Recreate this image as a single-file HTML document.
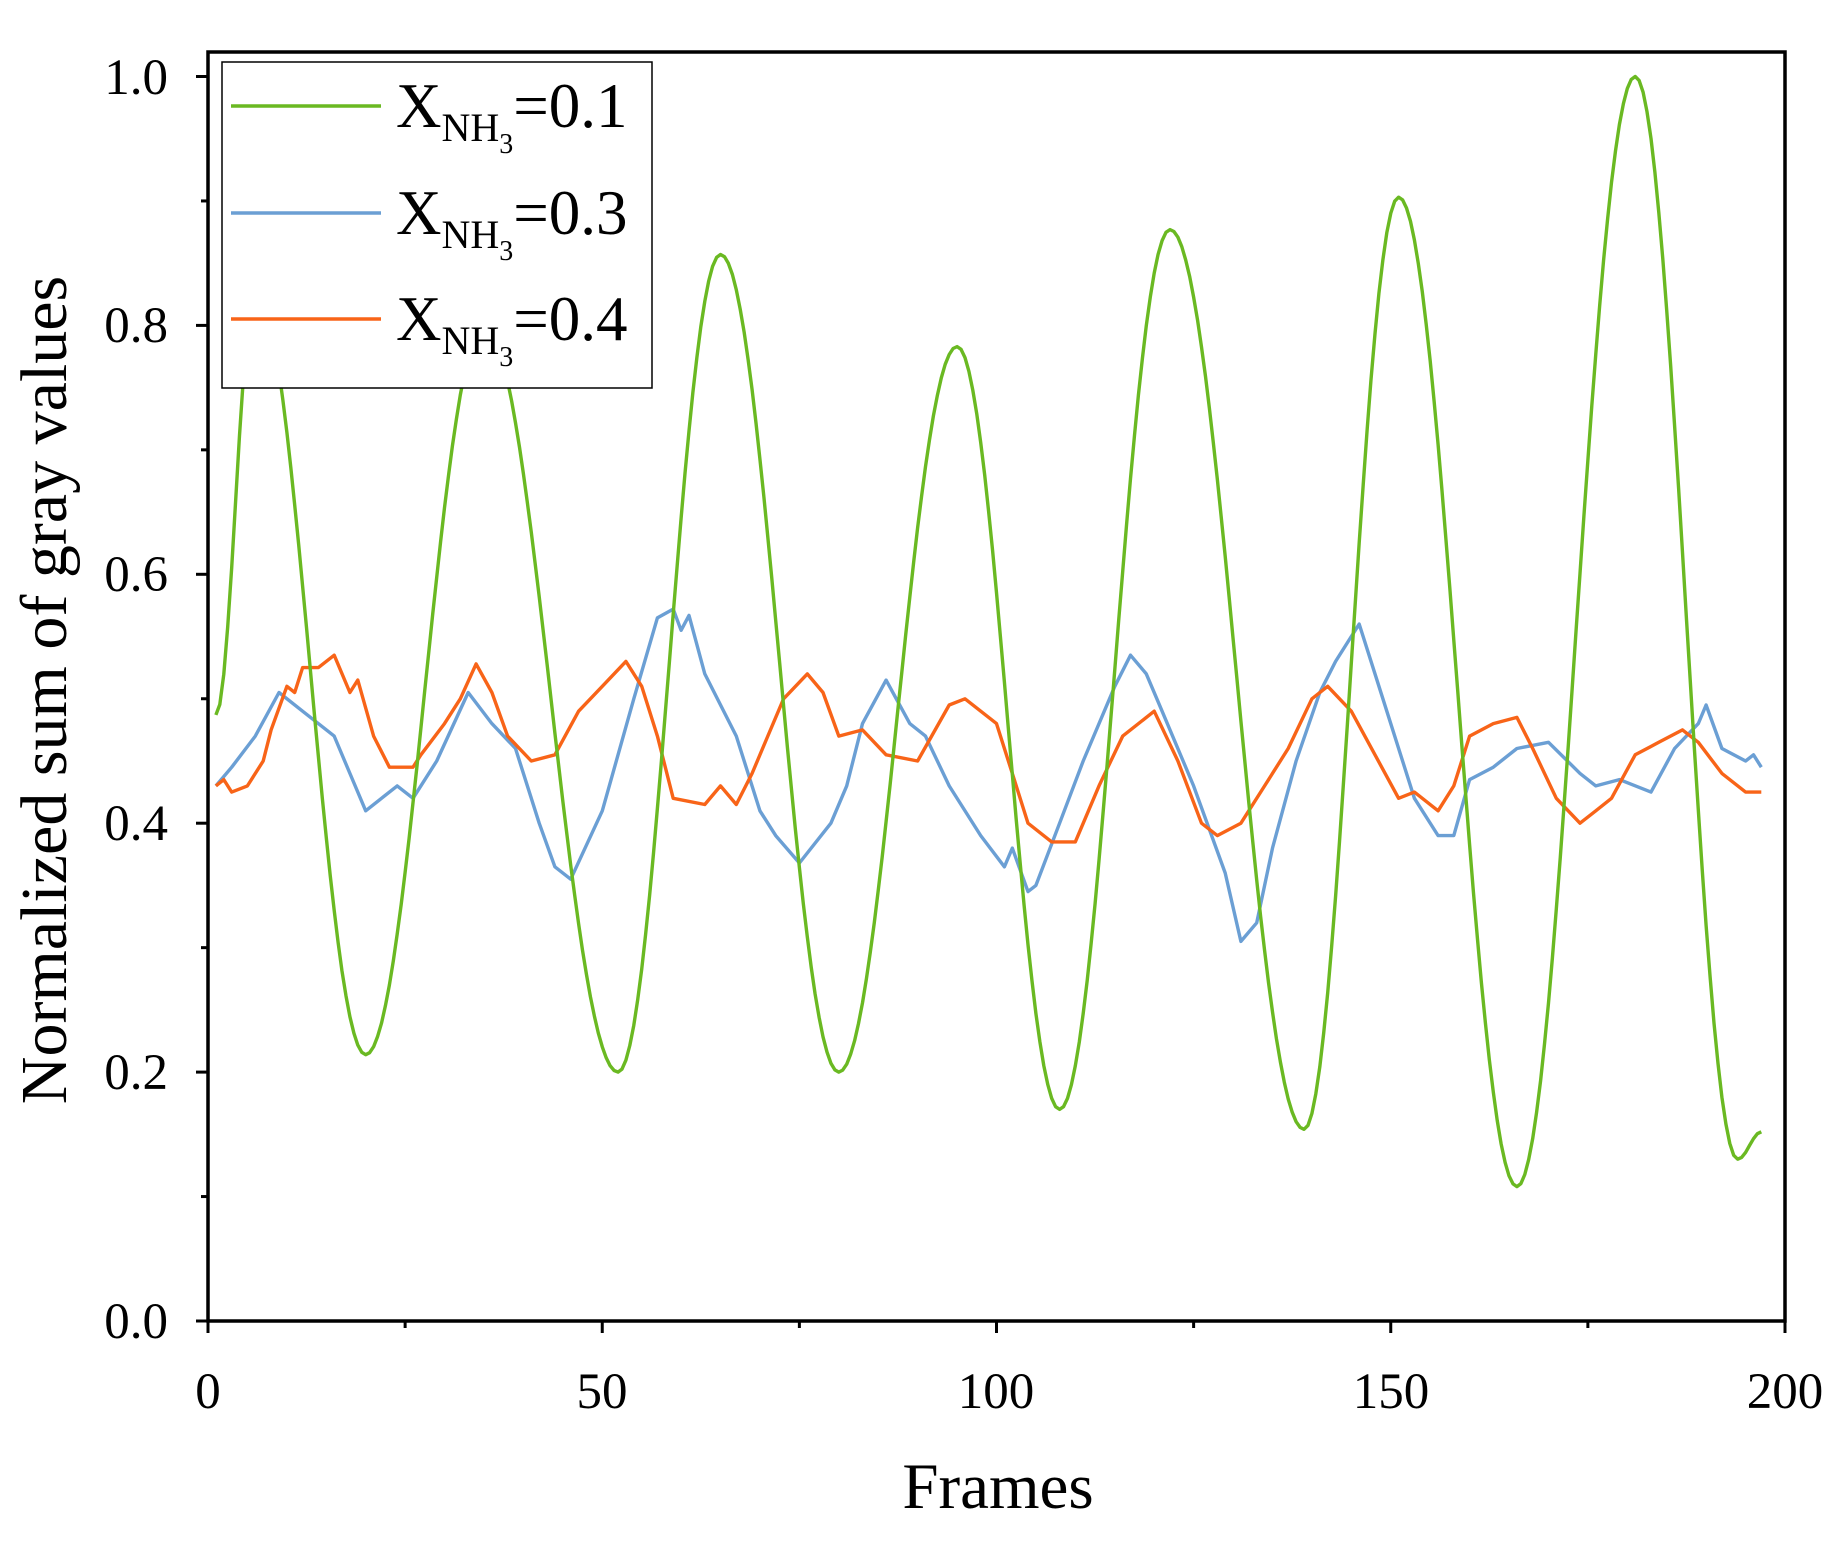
<!DOCTYPE html>
<html><head><meta charset="utf-8"><style>
html,body{margin:0;padding:0;background:#fff}
svg{display:block}
text{font-family:"Liberation Serif",serif;fill:#000}
</style></head><body>
<svg id="s" width="1846" height="1545" viewBox="0 0 1846 1545" xmlns="http://www.w3.org/2000/svg">
<g id="series" fill="none" stroke-width="3.4" stroke-linejoin="round"></g>
<rect x="208" y="52" width="1577" height="1269" fill="none" stroke="#000" stroke-width="3.5"/>
<g id="ticks" stroke="#000" stroke-width="3"></g>
<g font-size="51" text-anchor="end">
<text x="168" y="1338">0.0</text><text x="168" y="1089">0.2</text><text x="168" y="840">0.4</text>
<text x="168" y="591">0.6</text><text x="168" y="342">0.8</text><text x="168" y="94">1.0</text>
</g>
<g font-size="51" text-anchor="middle">
<text x="208" y="1408">0</text><text x="602" y="1408">50</text><text x="996" y="1408">100</text>
<text x="1391" y="1408">150</text><text x="1785" y="1408">200</text>
</g>
<text x="998" y="1508" font-size="65" text-anchor="middle">Frames</text>
<text transform="translate(66,690) rotate(-90)" font-size="66" text-anchor="middle">Normalized sum of gray values</text>
<rect x="222" y="62" width="430" height="326" fill="#fff" stroke="#000" stroke-width="1.5"/>
<line x1="231" y1="106" x2="381" y2="106" stroke="#6ab922" stroke-width="3.5"/>
<line x1="231" y1="213" x2="381" y2="213" stroke="#6b9fd4" stroke-width="3.5"/>
<line x1="231" y1="319" x2="381" y2="319" stroke="#f86418" stroke-width="3.5"/>
<g font-size="63">
<text x="396" y="127">X<tspan font-size="40" dy="14">NH</tspan><tspan font-size="28" dy="12">3</tspan><tspan dy="-26">=0.1</tspan></text>
<text x="396" y="234">X<tspan font-size="40" dy="14">NH</tspan><tspan font-size="28" dy="12">3</tspan><tspan dy="-26">=0.3</tspan></text>
<text x="396" y="340">X<tspan font-size="40" dy="14">NH</tspan><tspan font-size="28" dy="12">3</tspan><tspan dy="-26">=0.4</tspan></text>
</g>
</svg>
<script>
var X0=208,XS=1577/200,Y0=1321,YS=1244.5;
function px(f){return X0+f*XS} function py(v){return Y0-v*YS}
var g=[[1,0.487],[6,0.83],[20,0.214],[35,0.8],[52,0.2],[65,0.857],[80,0.2],[95,0.783],[108,0.17],[122,0.877],[139,0.154],[151,0.903],[166,0.108],[181,1.0],[194,0.13],[197,0.152]];
var b=[[1,0.43],[3,0.445],[6,0.47],[9,0.505],[12,0.49],[16,0.47],[18,0.44],[20,0.41],[24,0.43],[26,0.42],[29,0.45],[33,0.505],[36,0.48],[39,0.46],[42,0.4],[44,0.365],[46,0.355],[50,0.41],[54,0.5],[57,0.565],[59,0.572],[60,0.555],[61,0.567],[63,0.52],[67,0.47],[70,0.41],[72,0.39],[75,0.368],[79,0.4],[81,0.43],[83,0.48],[86,0.515],[89,0.48],[91,0.47],[94,0.43],[98,0.39],[101,0.365],[102,0.38],[104,0.345],[105,0.35],[108,0.4],[111,0.45],[115,0.51],[117,0.535],[119,0.52],[121,0.49],[125,0.43],[129,0.36],[131,0.305],[133,0.32],[135,0.38],[138,0.45],[141,0.505],[143,0.53],[145,0.55],[146,0.56],[149,0.5],[153,0.42],[156,0.39],[158,0.39],[160,0.435],[163,0.445],[166,0.46],[170,0.465],[174,0.44],[176,0.43],[179,0.435],[183,0.425],[186,0.46],[189,0.48],[190,0.495],[192,0.46],[195,0.45],[196,0.455],[197,0.445]];
var o=[[1,0.43],[2,0.435],[3,0.425],[5,0.43],[7,0.45],[8,0.475],[10,0.51],[11,0.505],[12,0.525],[14,0.525],[16,0.535],[18,0.505],[19,0.515],[21,0.47],[23,0.445],[26,0.445],[27,0.455],[30,0.48],[32,0.5],[34,0.528],[36,0.505],[38,0.47],[41,0.45],[44,0.455],[47,0.49],[50,0.51],[53,0.53],[55,0.51],[57,0.47],[59,0.42],[63,0.415],[65,0.43],[67,0.415],[69,0.44],[71,0.47],[73,0.5],[76,0.52],[78,0.505],[80,0.47],[83,0.475],[86,0.455],[90,0.45],[94,0.495],[96,0.5],[100,0.48],[102,0.44],[104,0.4],[107,0.385],[110,0.385],[113,0.43],[116,0.47],[120,0.49],[123,0.45],[126,0.4],[128,0.39],[131,0.4],[134,0.43],[137,0.46],[140,0.5],[142,0.51],[145,0.49],[148,0.455],[151,0.42],[153,0.425],[156,0.41],[158,0.43],[160,0.47],[163,0.48],[166,0.485],[168,0.46],[171,0.42],[174,0.4],[176,0.41],[178,0.42],[181,0.455],[184,0.465],[187,0.475],[189,0.465],[192,0.44],[195,0.425],[197,0.425]];
function cosPath(a){var d="M"+px(a[0][0])+","+py(a[0][1]);for(var i=0;i<a.length-1;i++){var p=a[i],q=a[i+1];for(var f=p[0]+0.5;f<=q[0]+1e-6;f+=0.5){var t=(f-p[0])/(q[0]-p[0]);var s=(1-Math.cos(Math.PI*t))/2;d+=" L"+px(f).toFixed(1)+","+py(p[1]+(q[1]-p[1])*s).toFixed(1);}}return d}
function linPath(a){return "M"+a.map(function(p){return px(p[0]).toFixed(1)+","+py(p[1]).toFixed(1)}).join(" L")}
var S=document.getElementById("series"),ns="http://www.w3.org/2000/svg";
[[linPath(b),"#6b9fd4"],[linPath(o),"#f86418"],[cosPath(g),"#6ab922"]].forEach(function(e){var p=document.createElementNS(ns,"path");p.setAttribute("d",e[0]);p.setAttribute("stroke",e[1]);S.appendChild(p)});
var T=document.getElementById("ticks"),h="";
for(var i=0;i<=8;i++){var x=X0+i*1577/8,L=i%2?7:12;h+='<line x1="'+x+'" y1="'+Y0+'" x2="'+x+'" y2="'+(Y0+L)+'"/>';}
for(var j=0;j<=10;j++){var y=Y0-j*YS/10,L2=j%2?7:12;h+='<line x1="208" y1="'+y+'" x2="'+(208-L2)+'" y2="'+y+'"/>';}
T.innerHTML=h;
</script>
</body></html>
